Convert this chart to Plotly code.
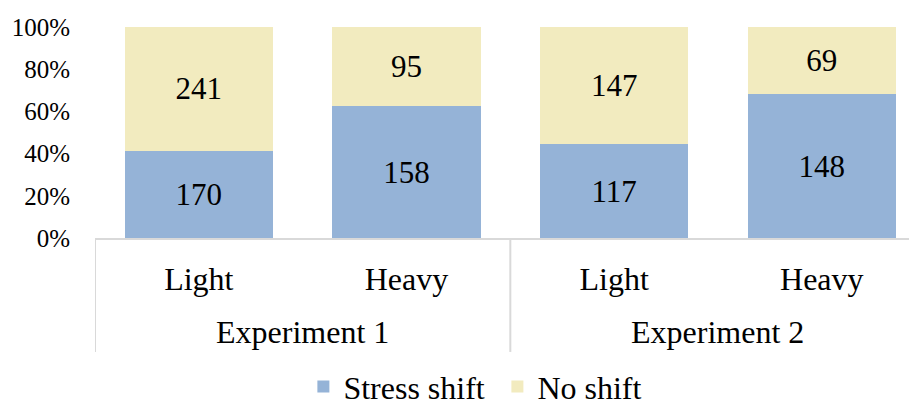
import plotly.graph_objects as go

experiments = ["Experiment 1", "Experiment 2"]
conditions = ["Light", "Heavy", "Light", "Heavy"]
stress_shift = [170, 158, 117, 148]
no_shift = [241, 95, 147, 69]
y_ticks = [0, 0.2, 0.4, 0.6, 0.8, 1.0]

totals = [a + b for a, b in zip(stress_shift, no_shift)]
xpos = list(range(len(conditions)))
per_group = len(conditions) // len(experiments)

FONT = "Liberation Serif"
BLUE = "#95B3D7"
YELLOW = "#F2EBBF"
RULE = "#D9D9D9"

fig = go.Figure()
for name, counts, color in [("Stress shift", stress_shift, BLUE),
                            ("No shift", no_shift, YELLOW)]:
    fig.add_trace(go.Bar(
        x=xpos,
        y=[c / t for c, t in zip(counts, totals)],
        customdata=counts,
        name=name,
        marker=dict(color=color, line=dict(width=0)),
        texttemplate="%{customdata}",
        textposition="inside",
        insidetextanchor="middle",
        textangle=0,
        textfont=dict(family=FONT, size=31, color="#000000"),
    ))

# outer category level: group labels and the dividers between groups
for g, label in enumerate(experiments):
    first = g * per_group
    center = first + (per_group - 1) / 2
    fig.add_annotation(text=label, x=center, xref="x", y=-0.445, yref="paper",
                       yanchor="middle", showarrow=False,
                       font=dict(family=FONT, size=32, color="#000000"))
for g in range(len(experiments) + 1):
    edge = g * per_group - 0.5
    fig.add_shape(type="line", xref="x", yref="paper", x0=edge, x1=edge,
                  y0=0, y1=-0.54, line=dict(color=RULE, width=2), layer="below")

fig.update_layout(
    barmode="stack",
    bargap=0.287,
    width=909,
    height=401,
    margin=dict(l=95, r=0, t=27, b=163, autoexpand=False),
    paper_bgcolor="white",
    plot_bgcolor="white",
    font=dict(family=FONT, color="#000000"),
    uniformtext=dict(minsize=31, mode="show"),
    legend=dict(
        orientation="h",
        x=0.256, xanchor="left",
        y=-0.705, yanchor="middle",
        font=dict(family=FONT, size=32),
        itemwidth=30,
        entrywidth=149,
        traceorder="normal",
    ),
    xaxis=dict(
        range=[-0.5, 3.42],
        tickvals=xpos,
        ticktext=conditions,
        showline=True,
        linecolor=RULE,
        linewidth=2,
        showgrid=False,
        zeroline=False,
        tickfont=dict(family=FONT, size=32),
        ticks="",
        ticklabelstandoff=12,
    ),
    yaxis=dict(
        range=[0, 1],
        tickvals=y_ticks,
        tickformat=".0%",
        showgrid=False,
        zeroline=False,
        showline=False,
        ticks="",
        ticklabelstandoff=24,
        tickfont=dict(family=FONT, size=25),
    ),
)

fig.write_html("out.html")
